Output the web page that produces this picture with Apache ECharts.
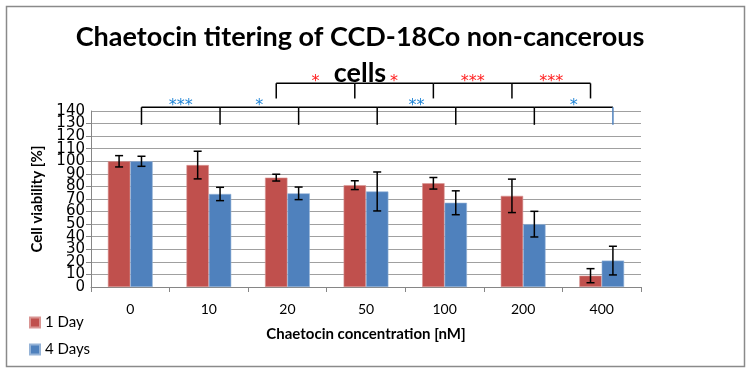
<!DOCTYPE html>
<html>
<head>
<meta charset="utf-8">
<script src="https://cdn.jsdelivr.net/npm/echarts@6/dist/echarts.min.js"></script>
<style>
  html, body { margin: 0; padding: 0; background: #ffffff; }
  #chart { width: 747px; height: 369px; }
</style>
</head>
<body>
<div id="chart"></div>
<script>
// ---- data ----
const categories = ['0', '10', '20', '50', '100', '200', '400'];
const day1Values = [100, 97, 87, 81, 82.5, 72.5, 9];
const day1Errors = [4.5, 11, 2.7, 3.5, 4.6, 13.3, 5.6];
const day4Values = [100, 74, 74.5, 76, 67, 50, 21];
const day4Errors = [4, 5.3, 5, 15.5, 9.5, 10.2, 11.4];
const seriesNames = ['1 Day', '4 Days'];
// significance between consecutive concentrations (i -> i+1)
const day4Stars = ['***', '*', '', '**', '', '*'];
const day1Stars = ['', '', '*', '*', '***', '***'];
const day1BracketStart = 2;
const day4BracketStart = 0;
// bracket levels in axis units
const day4BracketLevel = 143;
const day4BracketTickEnd = 129;
const day1BracketLevel = 162;
const day1BracketTickEnd = 150;
const yMin = 0, yMax = 140, yInterval = 10;

const RED = '#C0504D';
const BLUE = '#4F81BD';
const GAP = 0.43; // barCategoryGap fraction

function barOffset(api, which) {
  const band = api.size([1, 0])[0];
  const bw = band * (1 - GAP) / 2;
  return which === 0 ? -bw / 2 : bw / 2;
}

function errorData(vals, errs) {
  return vals.map((v, i) => [i, v - errs[i], v + errs[i]]);
}

function makeErrorSeries(vals, errs, which) {
  return {
    type: 'custom',
    silent: true,
    z: 5,
    data: errorData(vals, errs),
    encode: { x: 0, y: [1, 2] },
    renderItem: function (params, api) {
      const i = api.value(0);
      const lo = api.coord([i, api.value(1)]);
      const hi = api.coord([i, api.value(2)]);
      const x = lo[0] + barOffset(api, which);
      const cap = 4;
      const st = { stroke: '#000', lineWidth: 1.5 };
      return {
        type: 'group',
        children: [
          { type: 'line', shape: { x1: x, y1: lo[1], x2: x, y2: hi[1] }, style: st },
          { type: 'line', shape: { x1: x - cap, y1: lo[1], x2: x + cap, y2: lo[1] }, style: st },
          { type: 'line', shape: { x1: x - cap, y1: hi[1], x2: x + cap, y2: hi[1] }, style: st }
        ]
      };
    }
  };
}

function makeBracketSeries(stars, start, level, tickEnd, which, starColor) {
  const data = [];
  for (let i = start; i < categories.length; i++) {
    data.push([i, level, tickEnd, i < categories.length - 1 ? stars[i] : '']);
  }
  const last = categories.length - 1;
  return {
    type: 'custom',
    silent: true,
    clip: false,
    z: 6,
    data: data,
    encode: { x: 0, y: [1, 2] },
    renderItem: function (params, api) {
      const i = api.value(0);
      const top = api.coord([i, api.value(1)]);
      const bot = api.coord([i, api.value(2)]);
      const off = barOffset(api, which);
      const x = top[0] + off;
      const band = api.size([1, 0])[0];
      const children = [];
      const tickColor = (which === 1 && i === last) ? BLUE : '#000';
      children.push({ type: 'line', shape: { x1: x, y1: top[1], x2: x, y2: bot[1] },
        style: { stroke: tickColor, lineWidth: 1.5 } });
      if (i < last) {
        const nx = x + band;
        children.push({ type: 'line', shape: { x1: x, y1: top[1], x2: nx, y2: top[1] },
          style: { stroke: '#000', lineWidth: 1.5 } });
        const txt = data[params.dataIndex][3];
        if (txt) {
          children.push({ type: 'text', style: {
            text: txt, x: (x + nx) / 2, y: top[1] - 1,
            fill: starColor, font: '16px "DejaVu Sans"',
            align: 'center', verticalAlign: 'middle',
            textAlign: 'center', textVerticalAlign: 'middle'
          } });
        }
      }
      return { type: 'group', children: children };
    }
  };
}

const yLabelStyle = { fontFamily: 'DejaVu Sans', fontSize: 15, color: '#000', margin: 6 };

const chart = echarts.init(document.getElementById('chart'), null, { renderer: 'canvas' });
chart.setOption({
  animation: false,
  backgroundColor: '#ffffff',
  graphic: [{
    type: 'rect', left: 4, top: 4, z: -10,
    shape: { width: 738, height: 360 },
    style: { fill: 'none', stroke: '#8a8a8a', lineWidth: 1.5 }
  }],
  title: {
    text: 'Chaetocin titering of CCD-18Co non-cancerous\ncells',
    left: 355,
    top: 14,
    textAlign: 'center',
    textStyle: { fontFamily: 'Lato', fontWeight: 'bold', fontSize: 27, lineHeight: 36, color: '#000', align: 'center' }
  },
  legend: {
    orient: 'vertical',
    left: 24,
    top: 310,
    itemWidth: 10,
    itemHeight: 10,
    itemGap: 12,
    icon: 'rect',
    data: seriesNames,
    textStyle: { fontFamily: 'Lato', fontSize: 15, color: '#000' }
  },
  grid: { left: 91, right: 106, top: 111, bottom: 82 },
  xAxis: {
    type: 'category',
    data: categories,
    name: 'Chaetocin concentration [nM]',
    nameLocation: 'middle',
    nameGap: 40,
    nameTextStyle: { fontFamily: 'Lato', fontWeight: 'bold', fontSize: 15, color: '#000' },
    axisLine: { lineStyle: { color: '#868686', width: 1 } },
    axisTick: { show: true, length: 5, lineStyle: { color: '#868686' } },
    axisLabel: { fontFamily: 'Lato', fontSize: 14, color: '#000', margin: 15 }
  },
  yAxis: [{
    type: 'value',
    min: yMin, max: yMax, interval: yInterval,
    name: 'Cell viability [%]',
    nameLocation: 'middle',
    nameGap: 46,
    nameRotate: 90,
    nameTextStyle: { fontFamily: 'Lato', fontWeight: 'bold', fontSize: 15, color: '#000' },
    axisLine: { show: true, lineStyle: { color: '#868686', width: 1 } },
    axisTick: { show: true, length: 5, lineStyle: { color: '#868686' } },
    axisLabel: yLabelStyle,
    splitLine: { show: true, lineStyle: { color: '#a0a0a0', width: 1.2 } }
  }, {
    // end labels (0 and 140) of the same scale
    type: 'value',
    position: 'left',
    offset: 0,
    min: yMin, max: yMax, interval: yMax - yMin,
    axisLine: { show: false },
    axisTick: { show: false },
    splitLine: { show: false },
    axisLabel: Object.assign({ showMinLabel: true, showMaxLabel: true }, yLabelStyle)
  }],
  series: [
    { name: seriesNames[0], type: 'bar', data: day1Values, barGap: '0%', barCategoryGap: (GAP * 100) + '%',
      itemStyle: { color: RED, borderColor: '#d99593', borderWidth: 0.6 } },
    { name: seriesNames[1], type: 'bar', data: day4Values, barGap: '0%', barCategoryGap: (GAP * 100) + '%',
      itemStyle: { color: BLUE, borderColor: '#95b3d7', borderWidth: 0.6 } },
    makeErrorSeries(day1Values, day1Errors, 0),
    makeErrorSeries(day4Values, day4Errors, 1),
    makeBracketSeries(day4Stars, day4BracketStart, day4BracketLevel, day4BracketTickEnd, 1, '#1f84d6'),
    makeBracketSeries(day1Stars, day1BracketStart, day1BracketLevel, day1BracketTickEnd, 0, '#ff2020')
  ]
});
</script>
</body>
</html>
